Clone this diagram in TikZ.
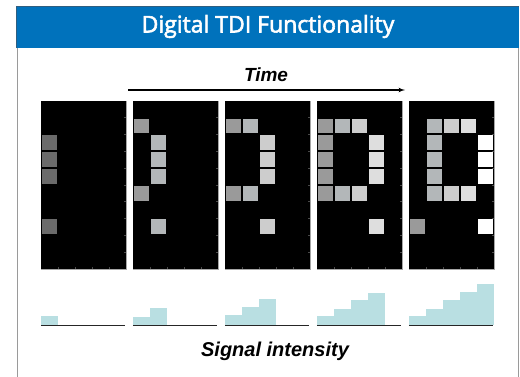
\documentclass[tikz,border=0pt]{standalone}
\usepackage{fontspec}
\setmainfont{Liberation Sans}
\newfontfamily\titlefont[FakeBold=2.5]{Open Sans}
\usepackage{tikz}
\usetikzlibrary{shapes,arrows,positioning,calc}

\definecolor{hdrblue}{HTML}{0072BC}
\definecolor{hdredge}{HTML}{2F5E80}
\definecolor{framegray}{HTML}{9A9A9A}
\definecolor{tickgray}{HTML}{4A4A4A}
\definecolor{barcyan}{HTML}{B9DFE2}
\definecolor{lvlA}{HTML}{6B6B6B}
\definecolor{lvlB}{HTML}{9A9A9A}
\definecolor{lvlC}{HTML}{B3B7B9}
\definecolor{lvlD}{HTML}{CDCDCD}
\definecolor{lvlE}{HTML}{DEDEDE}
\definecolor{lvlF}{HTML}{FFFFFF}

% one lit pixel: panel, column, row, colour
\newcommand{\pixcell}[4]{\fill[#4] ($(p#1.north west)+(17*#2+1,16.8*#3+1)$) rectangle ++(15,14.8);}
% one intensity bar: panel, slot, height
\newcommand{\sigbar}[3]{\fill[barcyan] ($(b#1.west)+(17*#2,0)$) rectangle ++(17,-#3);}

\begin{document}
\begin{tikzpicture}[
    x=1pt, y=-1pt,
    panel/.style={rectangle, fill=black, minimum width=85pt, minimum height=168pt, inner sep=0pt},
    baseline/.style={draw=black!85, line width=1.3pt},
    label/.style={font=\bfseries\itshape\fontsize{19}{22}\selectfont},
    line/.style={draw, line width=1.2pt, -latex'}
]
    \useasboundingbox (0,0) rectangle (520,377);

    % frame and header
    \draw[framegray, line width=1.3pt] (17.6,48) -- (17.6,377);
    \draw[framegray, line width=1.3pt] (518.4,7) -- (518.4,377);
    \node [rectangle, fill=hdrblue, minimum width=502pt, minimum height=41pt, inner sep=0pt] (hdr) at (268,27.5) {};
    \draw[hdredge, line width=1pt] (hdr.south west) -- (hdr.north west) -- (hdr.north east);
    \node [text=white, font=\titlefont\fontsize{23}{26}\selectfont] (title) at (268,26.5) {Digital TDI Functionality};

    % time arrow
    \node [label] (timelbl) at (266,75) {Time};
    \coordinate (tstart) at (128,90);
    \coordinate (tend) at (405,90);
    \path [line] (tstart) -- (tend);

    % sensor panels, grid only as ticks on the edges
    \foreach \k in {1,...,5} {
        \node [panel] (p\k) at ({83.5+92*(\k-1)},185) {};
        \draw[gray!70, line width=0.6pt] (p\k.south west) -- (p\k.south east) -- (p\k.north east);
        \foreach \c in {1,...,4}
            \draw[tickgray, line width=0.5pt] ($(p\k.south west)+(17*\c,0)$) -- ++(0,-2.5);
        \foreach \r in {1,...,9}
            \draw[tickgray, line width=0.5pt] ($(p\k.north east)+(0,16.8*\r)$) -- ++(-2.5,0);
    }

    % panel 1
    \foreach \r in {2,3,4,7} {\pixcell{1}{0}{\r}{lvlA}}
    % panel 2
    \pixcell{2}{0}{1}{lvlB} \pixcell{2}{0}{5}{lvlB}
    \foreach \r in {2,3,4,7} {\pixcell{2}{1}{\r}{lvlC}}
    % panel 3
    \foreach \r in {1,5} {\pixcell{3}{0}{\r}{lvlB} \pixcell{3}{1}{\r}{lvlC}}
    \foreach \r in {2,3,4,7} {\pixcell{3}{2}{\r}{lvlD}}
    % panel 4
    \foreach \r in {1,...,5} {\pixcell{4}{0}{\r}{lvlB}}
    \foreach \r in {1,5} {\pixcell{4}{1}{\r}{lvlC} \pixcell{4}{2}{\r}{lvlD}}
    \foreach \r in {2,3,4,7} {\pixcell{4}{3}{\r}{lvlE}}
    % panel 5
    \pixcell{5}{0}{7}{lvlB}
    \foreach \r in {1,...,5} {\pixcell{5}{1}{\r}{lvlC}}
    \foreach \r in {1,5} {\pixcell{5}{2}{\r}{lvlD} \pixcell{5}{3}{\r}{lvlE}}
    \foreach \r in {2,3,4,7} {\pixcell{5}{4}{\r}{lvlF}}

    % signal bars
    \foreach \k in {1,...,5}
        \coordinate (b\k) at ($(p\k.south west)+(0,56)$);
    \sigbar{1}{0}{9}
    \sigbar{2}{0}{8} \sigbar{2}{1}{17}
    \sigbar{3}{0}{10} \sigbar{3}{1}{18} \sigbar{3}{2}{26}
    \sigbar{4}{0}{9} \sigbar{4}{1}{16} \sigbar{4}{2}{25} \sigbar{4}{3}{32}
    \sigbar{5}{0}{9} \sigbar{5}{1}{16} \sigbar{5}{2}{25} \sigbar{5}{3}{33} \sigbar{5}{4}{41}
    \foreach \k in {1,...,5}
        \path [baseline] (b\k) -- ++(84,0);

    \node [label, font=\bfseries\itshape\fontsize{20}{23}\selectfont] (siglbl) at (275,351) {Signal intensity};
\end{tikzpicture}
\end{document}
